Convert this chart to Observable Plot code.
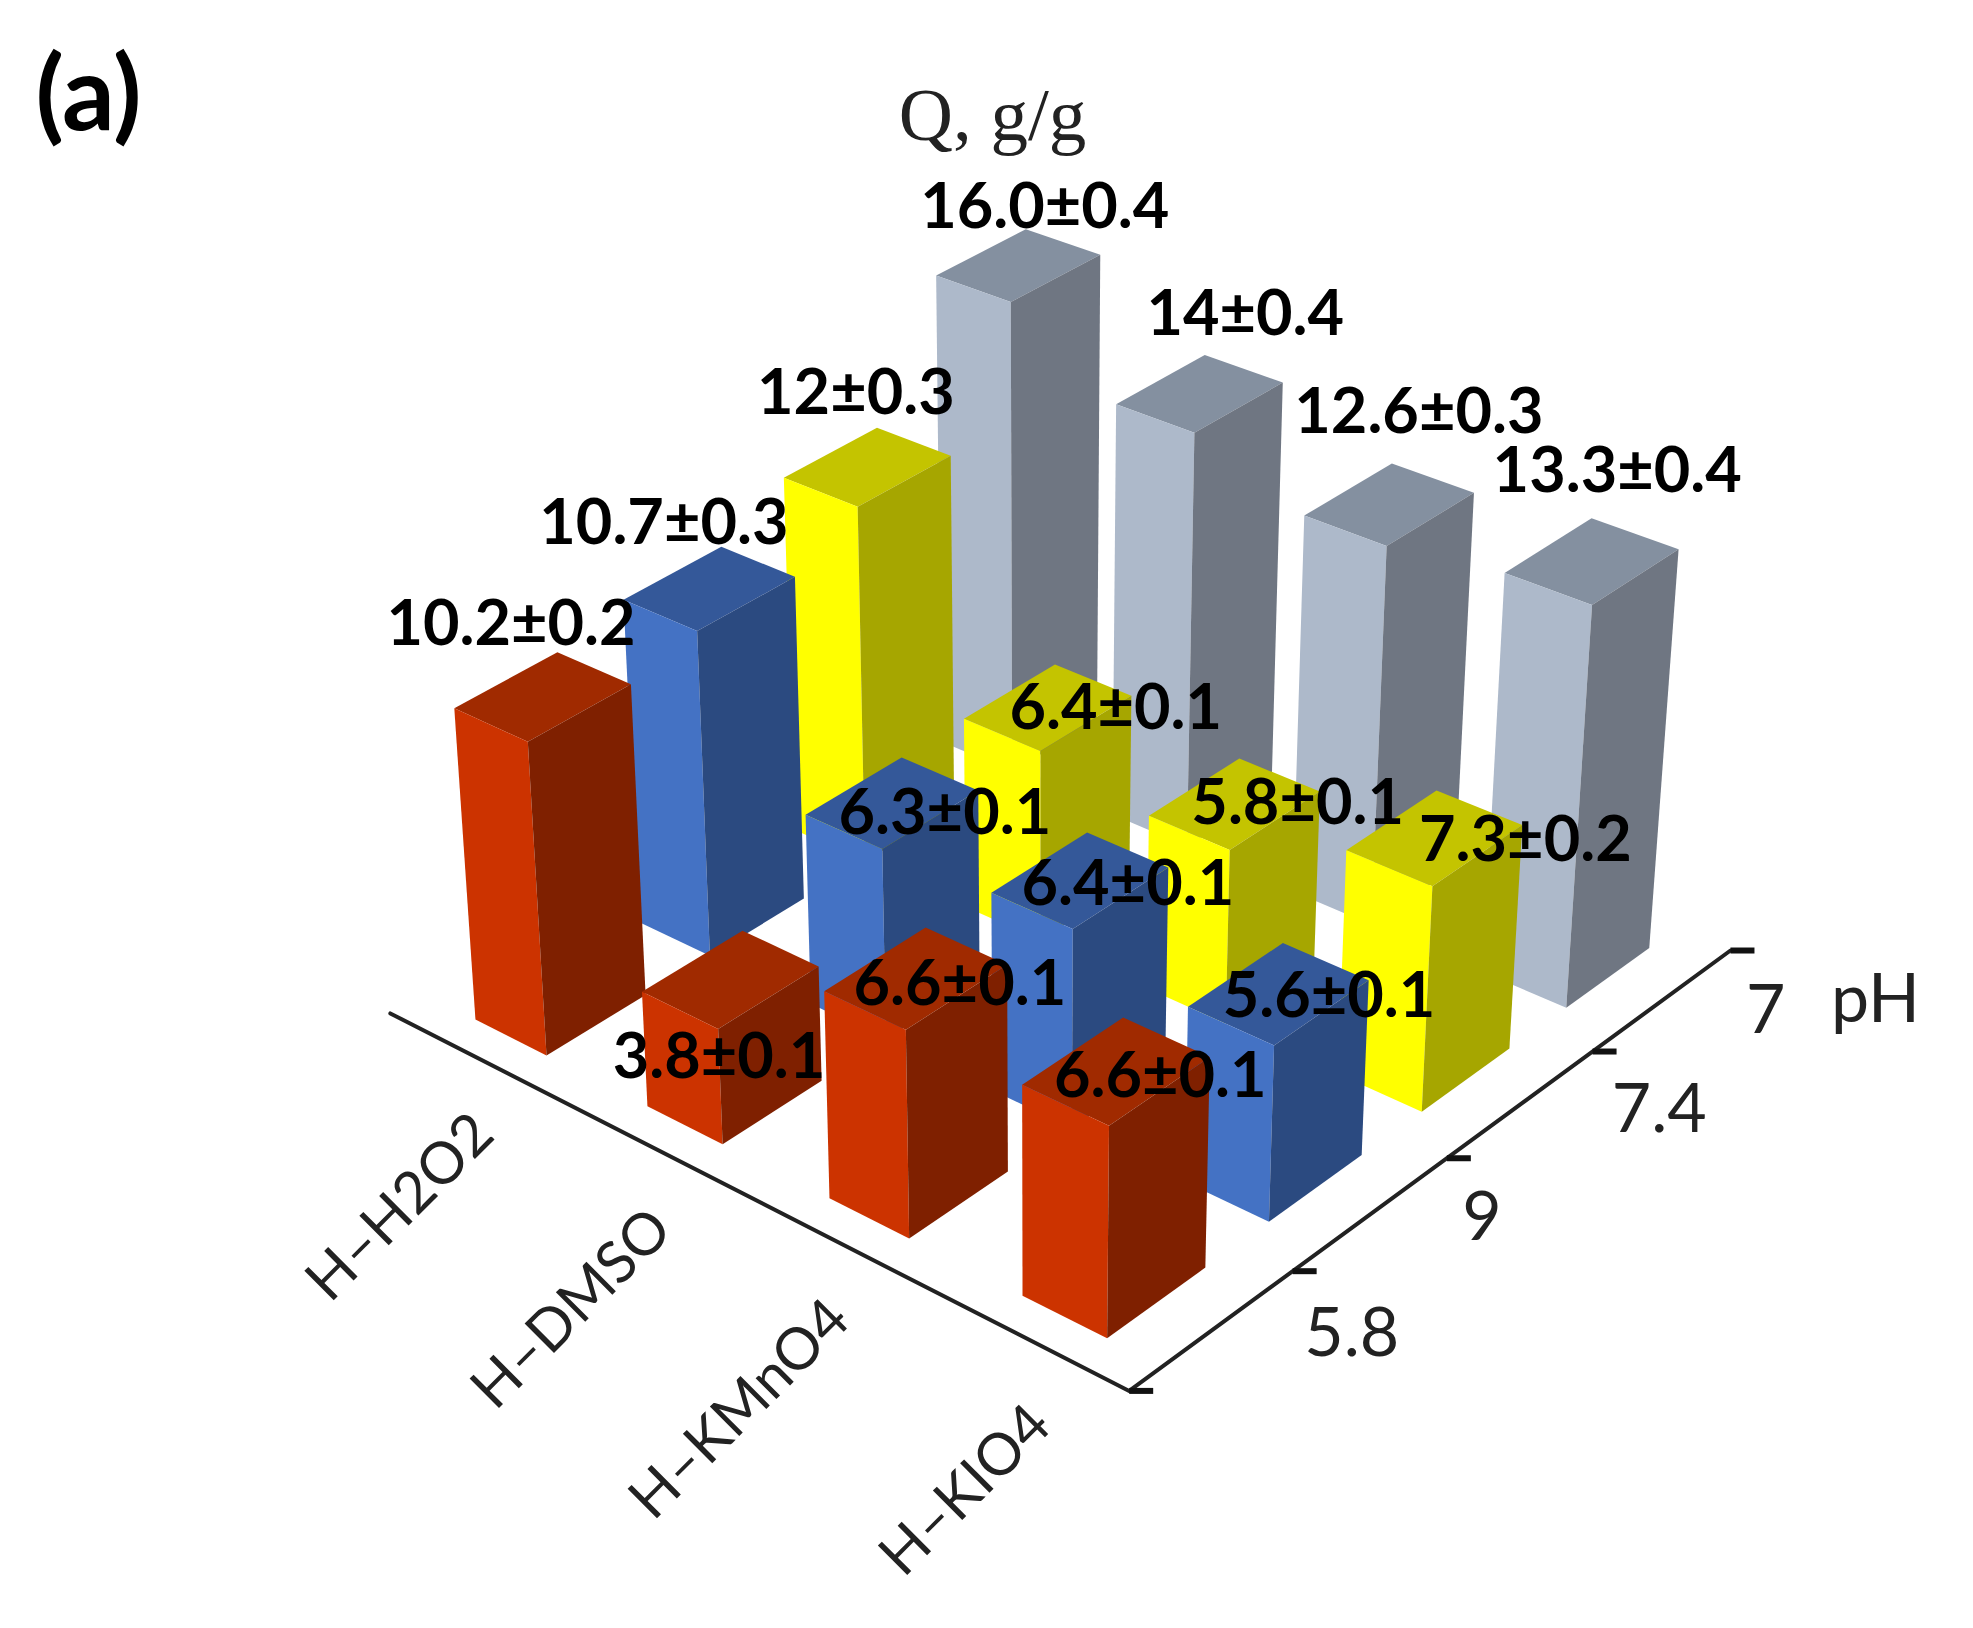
<!DOCTYPE html>
<html><head><meta charset="utf-8">
<style>html,body{margin:0;padding:0;background:#fff}svg{display:block}</style>
<script src="https://cdn.jsdelivr.net/npm/d3@7"></script>
<script src="https://cdn.jsdelivr.net/npm/@observablehq/plot@0.6"></script>
</head><body><div id="c"></div>
<script>
const categories = ["H–H2O2", "H–DMSO", "H–KMnO4", "H–KIO4"];
const phLevels = ["5.8", "9", "7.4", "7"];
// Labels printed on the bars
const labels58 = ["10.2±0.2", "3.8±0.1", "6.6±0.1", "6.6±0.1"];
const labels9 = ["10.7±0.3", "6.3±0.1", "6.4±0.1", "5.6±0.1"];
const labels74 = ["12±0.3", "6.4±0.1", "5.8±0.1", "7.3±0.2"];
const labels7 = ["16.0±0.4", "14±0.4", "12.6±0.3", "13.3±0.4"];
// Q value printed on each label
const q58 = [10.2, 3.8, 6.6, 6.6];
const q9 = [10.7, 6.3, 6.4, 5.6];
const q74 = [12, 6.4, 5.8, 7.3];
const q7 = [16.0, 14, 12.6, 13.3];
// Bar heights
const drawn58 = [10.0, 3.7, 6.5, 6.5];
const drawn9 = [10.5, 6.15, 6.3, 5.5];
const drawn74 = [11.6, 6.2, 5.6, 7.1];
const drawn7 = [15.4, 13.4, 12.1, 12.6];
const palettes = [
  {left: "#CC3300", right: "#7F2000", top: "#A02A00"},
  {left: "#4472C4", right: "#2B4A80", top: "#345899"},
  {left: "#FFFF00", right: "#A6A600", top: "#C4C400"},
  {left: "#ADB9CA", right: "#6F7682", top: "#8490A0"}
];
const labelHeights = [q58, q9, q74, q7];
const barHeights = [drawn58, drawn9, drawn74, drawn7];
const labelRows = [labels58, labels9, labels74, labels7];
// Label offsets from the bar centre at label height
const nudges = [
  [[-25,-52],[-9,65],[35,8],[35,7]],
  [[-36,-46],[42,13],[38,6],[40,5]],
  [[-9,-48],[54,6],[50,5],[72,8]],
  [[21,-30],[36,-47],[23,-60],[19,-52]]
];
const catNudges = [[-61,119],[-63,129],[-76,134],[-52,119]];
const phNudges = [[47,50],[28,48],[53,47],[28,48]];

// Perspective camera: s = steps along categories from the front corner,
// t = steps along pH, h = Q.
const K = 1973 / 1568;
function P(s, t, h = 0) {
  const w = 1 + 0.031 * s + 0.03 * t - 0.00407 * h;
  return [
    K * (897 + (-165 * s + 133.8 * t + 0.3 * h) / w),
    K * (1105 + (-84.3 * s - 98 * t - 25.5 * h) / w)
  ];
}
const S0 = 0.27, S1 = 0.69, T0 = 0.2, T1 = 0.8;

const faces = [];
let id = 0;
function face(pts, fill) {
  id++;
  for (const [s, t, h] of pts) {
    const [x, y] = P(s, t, h);
    faces.push({id, x, y, fill});
  }
}
for (let j = 3; j >= 0; j--) {
  for (let i = 0; i < 4; i++) {
    const k = 3 - i, h = barHeights[j][i], c = palettes[j];
    const s0 = k + S0, s1 = k + S1, t0 = j + T0, t1 = j + T1;
    face([[s0,t0,h],[s1,t0,h],[s1,t1,h],[s0,t1,h]], c.top);
    face([[s0,t0,0],[s1,t0,0],[s1,t0,h],[s0,t0,h]], c.left);
    face([[s0,t0,0],[s0,t1,0],[s0,t1,h],[s0,t0,h]], c.right);
  }
}
const valueText = [];
labelHeights.forEach((row, j) => row.forEach((h, i) => {
  const [x, y] = P(3 - i + 0.48, j + 0.5, h);
  valueText.push({x: x + K * nudges[j][i][0], y: y + K * nudges[j][i][1], text: labelRows[j][i]});
}));
const catText = categories.map((text, i) => {
  const [x, y] = P(3 - i + 0.48, 0);
  return {x: x + K * catNudges[i][0], y: y + K * catNudges[i][1], text};
});
const phText = phLevels.map((text, j) => {
  const [x, y] = P(0, j + 1);
  return {x: x + K * phNudges[j][0], y: y + K * phNudges[j][1], text};
});
const axisLine = [[4,0],[0,0],[0,4]].map(([s,t]) => { const [x,y] = P(s,t); return {x,y}; });
const ticks = [0,1,2,3,4].map(t => { const [x,y] = P(0,t); return {x1:x, y1:y, x2:x+24, y2:y}; });
const pHpos = P(0,4);

const chart = Plot.plot({
  width: 1973, height: 1628,
  marginTop: 0, marginRight: 0, marginBottom: 0, marginLeft: 0,
  x: {domain: [0, 1973], axis: null},
  y: {domain: [1628, 0], axis: null},
  color: {type: "identity"},
  marks: [
    Plot.line(axisLine, {x: "x", y: "y", stroke: "#222", strokeWidth: 4}),
    Plot.link(ticks, {x1: "x1", y1: "y1", x2: "x2", y2: "y2", stroke: "#111", strokeWidth: 6}),
    Plot.line(faces, {x: "x", y: "y", z: "id", fill: "fill", stroke: "none"}),
    Plot.text(catText, {x: "x", y: "y", text: "text", rotate: -45, fontSize: 58, fontFamily: "Lato", fill: "#222"}),
    Plot.text(phText, {x: "x", y: "y", text: "text", fontSize: 68, fontFamily: "Lato", fill: "#222"}),
    Plot.text([{x: pHpos[0] + 145, y: pHpos[1] + 50, text: "pH"}], {x: "x", y: "y", text: "text", fontSize: 68, fontFamily: "Lato", fill: "#222"}),
    Plot.text(valueText, {x: "x", y: "y", text: "text", fontSize: 63, fontWeight: 700, fontFamily: "Lato", fill: "#000"}),
    Plot.text([{x: 88, y: 96, text: "(a)"}], {x: "x", y: "y", text: "text", fontSize: 104, fontWeight: 700, fontFamily: "Lato", fill: "#000"}),
    Plot.text([{x: 992, y: 115, text: "Q, g/g"}], {x: "x", y: "y", text: "text", fontSize: 75, fontFamily: "Liberation Serif", fill: "#222"})
  ]
});
document.getElementById("c").append(chart);
</script></body></html>
